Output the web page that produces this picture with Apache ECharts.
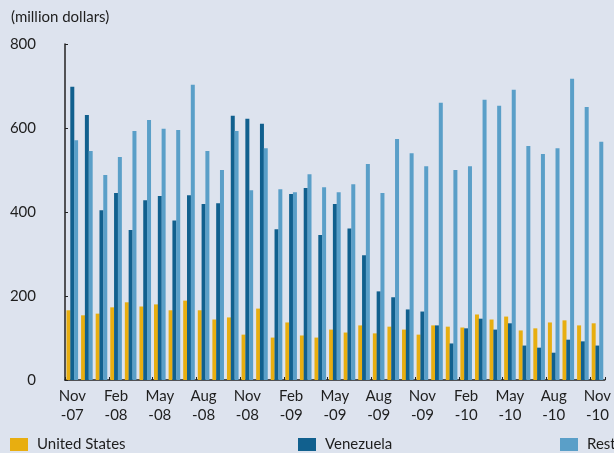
<!DOCTYPE html>
<html>
<head>
<meta charset="utf-8">
<script src="https://cdn.jsdelivr.net/npm/echarts@6/dist/echarts.min.js"></script>
<style>
  html, body { margin: 0; padding: 0; background: #dde3ee; }
  #chart { width: 614px; height: 453px; }
</style>
</head>
<body>
<div id="chart"></div>
<script>
// months Nov-07 .. Nov-10
var categories = [
  "Nov\n-07","Dec\n-07","Jan\n-08","Feb\n-08","Mar\n-08","Apr\n-08","May\n-08","Jun\n-08","Jul\n-08","Aug\n-08","Sep\n-08","Oct\n-08",
  "Nov\n-08","Dec\n-08","Jan\n-09","Feb\n-09","Mar\n-09","Apr\n-09","May\n-09","Jun\n-09","Jul\n-09","Aug\n-09","Sep\n-09","Oct\n-09",
  "Nov\n-09","Dec\n-09","Jan\n-10","Feb\n-10","Mar\n-10","Apr\n-10","May\n-10","Jun\n-10","Jul\n-10","Aug\n-10","Sep\n-10","Oct\n-10",
  "Nov\n-10"
];
var unitedStates = [166,154,158,173,185,175,180,166,189,166,144,149,108,170,101,137,106,101,120,113,130,111,127,120,108,130,127,125,156,144,151,118,123,137,142,130,135];
var venezuela = [698,631,404,445,357,428,438,380,440,419,421,629,622,610,359,443,457,345,419,361,297,211,197,168,163,130,87,123,146,120,135,82,77,65,96,92,82];
var rest = [571,545,488,531,593,619,598,595,703,545,500,593,452,552,454,447,490,459,447,466,514,445,574,540,509,660,500,509,667,653,691,557,538,552,717,650,567];

var fontName = "Lato";
var textColor = "#1e1e1e";

var myChart = echarts.init(document.getElementById("chart"));

function legendAt(name, left) {
  return {
    data: [name],
    left: left,
    top: 437,
    padding: 0,
    itemWidth: 18,
    itemHeight: 13,
    itemGap: 0,
    icon: "rect",
    textStyle: { fontFamily: fontName, fontSize: 15, color: textColor, padding: [0, 0, 0, 4] }
  };
}

var option = {
  backgroundColor: "#dde3ee",
  animation: false,
  title: {
    text: "(million dollars)",
    left: 6,
    top: 5,
    textStyle: { fontFamily: fontName, fontSize: 15, fontWeight: "normal", color: textColor }
  },
  legend: [
    legendAt("United States", 10),
    legendAt("Venezuela", 298),
    legendAt("Rest", 560)
  ],
  grid: { left: 65, right: 1.5, top: 44, bottom: 73 },
  xAxis: {
    type: "category",
    data: categories,
    axisLine: { lineStyle: { color: "#222", width: 1.5 } },
    axisTick: { show: true, inside: true, length: 3, interval: 2, lineStyle: { color: "#222" } },
    axisLabel: {
      interval: 2,
      margin: 7,
      fontFamily: fontName,
      fontSize: 15,
      lineHeight: 19,
      color: textColor
    }
  },
  yAxis: {
    type: "value",
    min: 0,
    max: 800,
    interval: 200,
    splitLine: { show: false },
    axisLine: { show: true, lineStyle: { color: "#222", width: 1.5 } },
    axisTick: { show: true, inside: true, length: 3, lineStyle: { color: "#222" } },
    axisLabel: { margin: 29, fontFamily: fontName, fontSize: 15, color: textColor }
  },
  series: [
    { name: "United States", type: "bar", data: unitedStates, barWidth: 4, barGap: "-5%", itemStyle: { color: "#e8ae10" } },
    { name: "Venezuela", type: "bar", data: venezuela, barWidth: 4, barGap: "-5%", itemStyle: { color: "#11608e" } },
    { name: "Rest", type: "bar", data: rest, barWidth: 4, barGap: "-5%", itemStyle: { color: "#5a9fc8" } }
  ]
};

myChart.setOption(option);
</script>
</body>
</html>
